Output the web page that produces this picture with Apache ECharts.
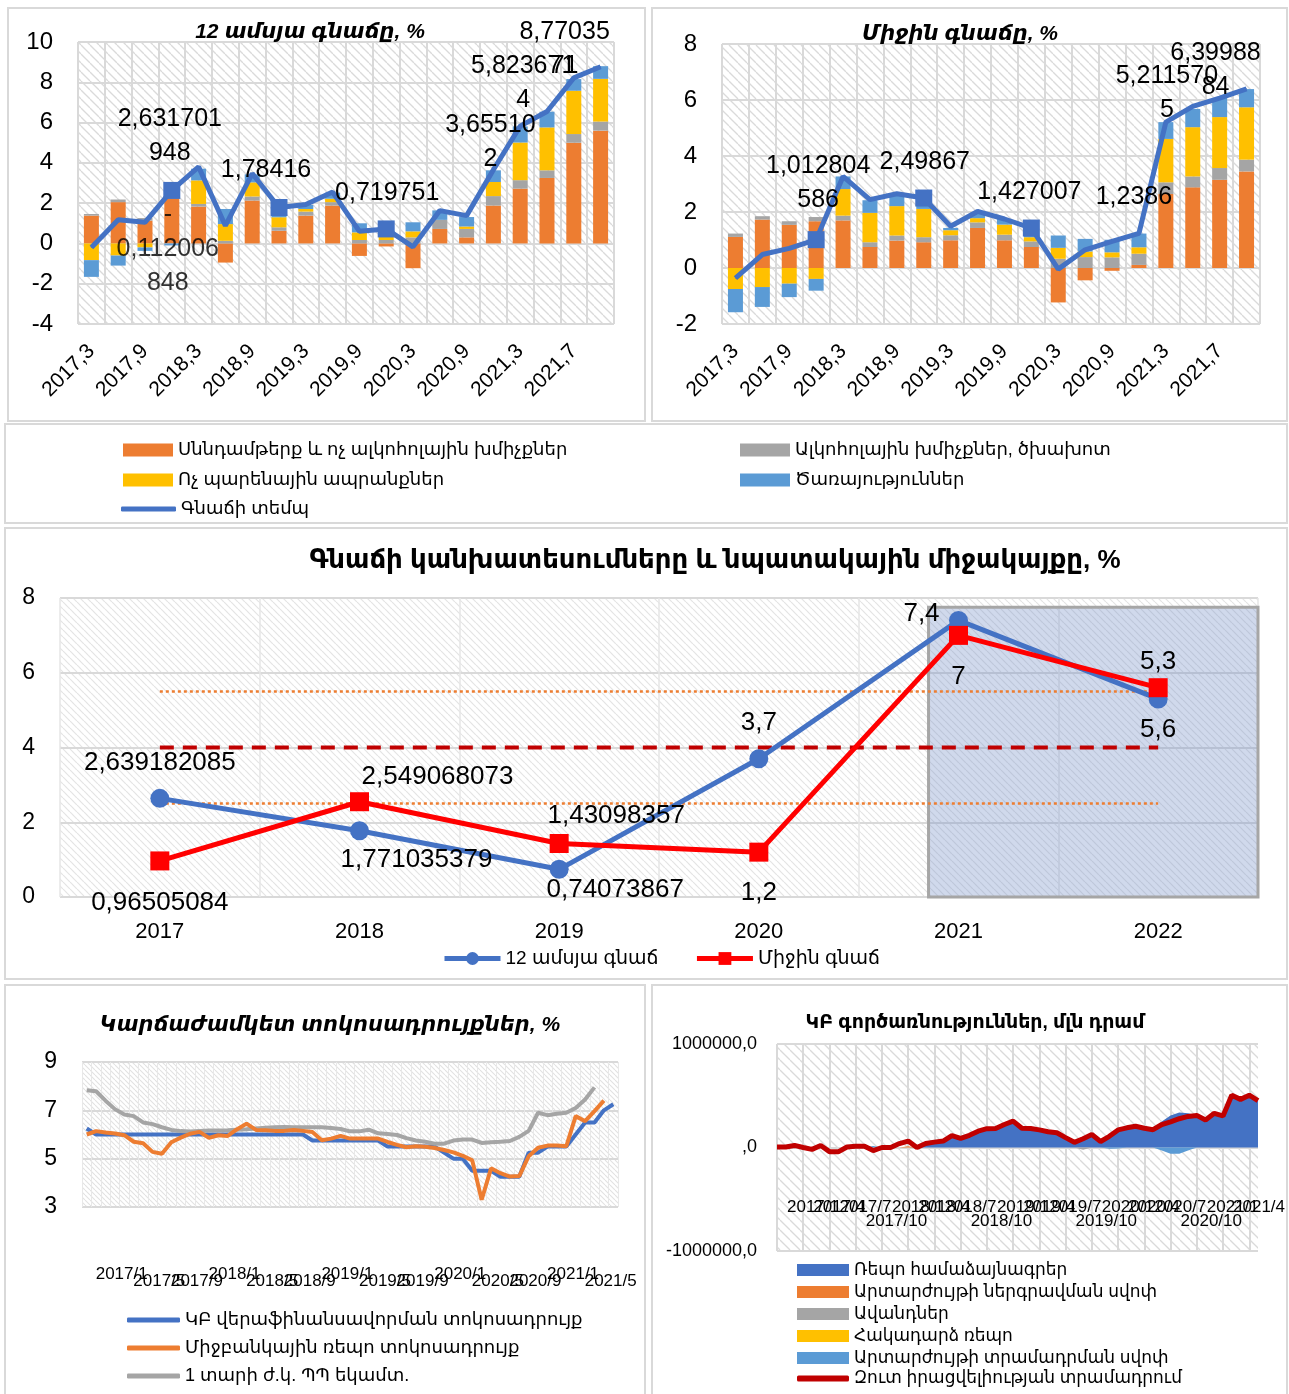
<!DOCTYPE html>
<html>
<head>
<meta charset="utf-8">
<title>Գնաճ և տոկոսադրույքներ</title>
<script src="https://cdn.jsdelivr.net/npm/echarts@6/dist/echarts.min.js"></script>
<style>
  html, body { margin: 0; padding: 0; background: #fff; }
  #main { width: 1289px; height: 1394px; }
</style>
</head>
<body>
<div id="main"></div>
<script>
  // ---------- chart 1 & 2 : CPI contributions ----------
  var quarters = ['2017,3', '2017,6', '2017,9', '2017,12', '2018,3', '2018,6', '2018,9', '2018,12', '2019,3', '2019,6',
    '2019,9', '2019,12', '2020,3', '2020,6', '2020,9', '2020,12', '2021,3', '2021,5', '2021,7', '2021,8'];

  var cpiFood    = [1.38, 2.05, 1.13, 2.25, 1.83, -0.95, 2.13, 0.63, 1.38, 1.88, -0.62, -0.15, -1.23, 0.72, 0.3, 1.88, 2.72, 3.25, 5.0, 5.6];
  var cpiAlco    = [0.08, 0.13, 0.13, 0.1, 0.13, 0.13, 0.2, 0.17, 0.2, 0.17, 0.17, 0.17, 0.3, 0.45, 0.42, 0.47, 0.42, 0.38, 0.43, 0.45];
  var cpiNonfood = [-0.83, -0.6, -0.2, 0.35, 1.17, 0.83, 0.7, 0.5, 0.13, 0.17, 0.38, 0.4, 0.3, 0.0, 0.12, 0.7, 1.87, 2.13, 2.15, 2.12];
  var cpiServ    = [-0.83, -0.5, -0.17, -0.1, 0.58, 0.75, 0.4, 0.48, 0.2, 0.3, 0.45, 0.3, 0.45, 0.47, 0.47, 0.58, 0.8, 0.78, 0.58, 0.63];
  var cpiTotal   = [-0.2, 1.17, 1.05, 2.631701948, 3.8, 0.88, 3.47, 1.78416, 1.93, 2.55, 0.6, 0.719751, -0.17, 1.63, 1.38,
    3.655102, 5.8236714, 6.55, 8.22, 8.7703571];
  var cpiNoteCat = ['2017,12'];
  var cpiNoteVal = [-0.112006848];

  var avgFood    = [1.11, 1.73, 1.54, 1.67, 1.7, 0.75, 0.98, 0.92, 0.99, 1.43, 0.99, 0.75, -1.23, -0.44, -0.1, 0.11, 2.64, 2.88, 3.15, 3.45];
  var avgAlco    = [0.12, 0.12, 0.13, 0.15, 0.17, 0.17, 0.18, 0.18, 0.18, 0.2, 0.2, 0.2, 0.33, 0.39, 0.38, 0.4, 0.42, 0.39, 0.42, 0.42];
  var avgNonfood = [-0.75, -0.68, -0.56, -0.39, 0.95, 1.05, 1.05, 1.01, 0.18, 0.15, 0.36, 0.15, 0.39, 0.2, 0.18, 0.23, 1.55, 1.76, 1.82, 1.87];
  var avgServ    = [-0.83, -0.71, -0.48, -0.42, 0.45, 0.45, 0.45, 0.39, 0.08, 0.2, 0.2, 0.32, 0.44, 0.45, 0.45, 0.49, 0.6, 0.65, 0.68, 0.65];
  var avgTotal   = [-0.36, 0.48, 0.7, 1.012804586, 3.27, 2.44, 2.65, 2.49867, 1.49, 2.02, 1.75, 1.427007, -0.04, 0.65, 0.95,
    1.2386, 5.2115705, 5.77, 6.07, 6.3998884];

  // ---------- chart 3 : forecasts ----------
  var years = ['2017', '2018', '2019', '2020', '2021', '2022'];
  var fc12m = [2.639182085, 1.771035379, 0.74073867, 3.7, 7.4, 5.3];
  var fcAvg = [0.96505084, 2.549068073, 1.43098357, 1.2, 7, 5.6];
  var target = [4, 4, 4, 4, 4, 4];
  var bandHi = [5.5, 5.5, 5.5, 5.5, 5.5, 5.5];
  var bandLo = [2.5, 2.5, 2.5, 2.5, 2.5, 2.5];
  var forecastBand = [3.85, 5.5, 0, 7.75]; // x from, x to (category index units), y from, y to

  // ---------- chart 4 : short-term rates (monthly from 2017/1) ----------
  var refiRate = [6.25, 6, 6, 6, 6, 6, 6, 6, 6, 6, 6, 6, 6, 6, 6, 6, 6, 6, 6, 6, 6, 6, 6, 6,
    5.75, 5.75, 5.75, 5.75, 5.75, 5.75, 5.75, 5.75, 5.5, 5.5, 5.5, 5.5, 5.5, 5.5,
    5.25, 5, 5, 4.5, 4.5, 4.5, 4.25, 4.25, 4.25, 5.25, 5.25, 5.5, 5.5, 5.5, 6, 6.5, 6.5, 7, 7.25];
  var repoRate = [6.0, 6.14, 6.08, 6.04, 5.97, 5.7, 5.64, 5.28, 5.2, 5.68,
    5.87, 6.03, 6.11, 5.86, 5.97, 5.94, 6.22, 6.45, 6.19, 6.18,
    6.15, 6.15, 6.19, 6.15, 6.1, 5.76, 5.83, 5.94, 5.83, 5.83,
    5.83, 5.83, 5.69, 5.57, 5.47, 5.51, 5.49, 5.44, 5.36, 5.26,
    5.12, 4.93, 3.3, 4.6, 4.4, 4.26, 4.28, 5.1, 5.45, 5.54,
    5.54, 5.51, 6.76, 6.55, 6.97, 7.4];
  var tbillYield = [7.83, 7.79, 7.4, 7.05, 6.83, 6.76, 6.5, 6.43, 6.3, 6.19,
    6.14, 6.12, 6.15, 6.17, 6.17, 6.18, 6.2, 6.22, 6.25, 6.28,
    6.3, 6.31, 6.3, 6.3, 6.3, 6.3, 6.27, 6.23, 6.13, 6.13,
    6.2, 6.05, 6.02, 5.98, 5.85, 5.75, 5.7, 5.62, 5.62, 5.75,
    5.79, 5.79, 5.65, 5.68, 5.7, 5.73, 5.9, 6.15, 6.9, 6.8,
    6.86, 6.9, 7.1, 7.45, 7.95];

  // ---------- chart 5 : CBA operations, mln dram (monthly from 2017/1) ----------
  var opsRepo = [0, 0, 0, 0, 0, 0, 0, 0, 0, 0,
    0, 0, 0, 0, 0, 0, 0, 38000, 52000, 62000,
    115000, 88000, 118000, 158000, 182000, 184000, 222000, 255000, 186000, 184000,
    170000, 152000, 142000, 95000, 50000, 107000, 125000, 58000, 120000, 180000,
    190000, 205000, 186000, 172000, 252000, 308000, 338000, 330000, 310000, 265000,
    330000, 305000, 505000, 465000, 505000, 452000];
  var opsSwapIn = [0, 0, 0, 0, 0, 0, 0, 0, 0, 0,
    0, 0, 0, 0, 0, 12000, 0, 0, 0, 0,
    0, 0, 0, 0, 0, 0, 0, 0, 0, 0,
    0, 0, 0, 0, 0, 0, 0, 0, 0, 0,
    0, 0, 0, 0, 0, 0, 0, 0, 0, 0,
    0, 0, 0, 0, 0, 0];
  var opsDeposits = [0, 0, 0, 0, 0, 0, 0, 0, 0, 0,
    0, 0, 0, 0, 0, 0, 0, 0, 0, 0,
    0, 0, 0, 0, 0, 0, 0, 0, 0, 0,
    0, 0, 0, 0, 0, -22000, 0, 0, 0, 0,
    0, 0, 0, 0, 0, 0, 0, 0, 0, 0,
    0, 0, 0, 0, 0, 0];
  var opsRevRepo = [0, 0, 0, 0, 0, 0, 0, 0, 0, 0,
    0, 0, 0, 0, 0, 0, 0, 0, 0, 0,
    0, 0, 0, 0, 0, 0, 0, 0, 0, 0,
    0, 0, 0, 0, 0, 0, 0, 0, 0, 0,
    0, 0, 0, 0, 0, 0, 0, 0, 0, 0,
    0, 0, 0, 0, 0, 0];
  var opsSwapOut = [0, 0, 0, 0, 0, 0, 0, 0, 0, 0,
    0, 15000, 0, 0, 0, 0, 0, 0, 0, 0,
    0, 0, 0, 0, 0, 0, 0, 0, 0, 0,
    0, 0, 0, 0, 0, 0, 0, 0, -12000, -10000,
    0, 0, 0, 0, -30000, -60000, -60000, -30000, 0, 0,
    0, 0, 0, 0, 0, 0];
  var opsNet = [5000, 5000, 20000, 0, -18000, 20000, -40000, -42000, 5000, 12000,
    12000, -30000, 0, 0, 38000, 62000, 0, 38000, 52000, 62000,
    115000, 88000, 118000, 158000, 182000, 184000, 222000, 255000, 186000, 184000,
    170000, 152000, 142000, 95000, 50000, 85000, 125000, 58000, 108000, 170000,
    190000, 205000, 186000, 172000, 222000, 248000, 278000, 300000, 310000, 265000,
    330000, 305000, 505000, 465000, 505000, 452000];

  function monthLabels(y, m, count) {
    var out = [];
    for (var k = 0; k < count; k++) {
      out.push(y + '/' + m);
      m++;
      if (m > 12) { m = 1; y++; }
    }
    return out;
  }
  var months4 = monthLabels(2017, 1, refiRate.length);
  var months5 = monthLabels(2017, 1, opsNet.length);

  // names
  var N_FOOD = 'Սննդամթերք և ոչ ալկոհոլային խմիչքներ';
  var N_ALCO = 'Ալկոհոլային խմիչքներ, ծխախոտ';
  var N_NONFOOD = 'Ոչ պարենային ապրանքներ';
  var N_SERV = 'Ծառայություններ';
  var N_RATE = 'Գնաճի տեմպ';

  var FONT = "'Liberation Sans', 'DejaVu Sans', sans-serif";
  var GRIDC = '#D9D9D9';

  function hatch(step, color, width) {
    var c = document.createElement('canvas');
    c.width = step; c.height = step;
    var ctx = c.getContext('2d');
    ctx.strokeStyle = color;
    ctx.lineWidth = width;
    for (var k = -1; k <= 1; k++) {
      ctx.beginPath();
      ctx.moveTo(k * step, 0);
      ctx.lineTo(k * step + step, step);
      ctx.stroke();
    }
    return { image: c, repeat: 'repeat' };
  }

  // numbers like Excel prints them in narrow label boxes
  function wrapNum(v, n) {
    var s = String(Math.abs(v)).replace('.', ',');
    var lines = [];
    for (var k = 0; k < s.length; k += n) lines.push(s.slice(k, k + n));
    return (v < 0 ? '-\n' : '') + lines.join('\n');
  }

  function rateLine(vals, squares, labels) {
    return vals.map(function (v, i) {
      var item = { value: v };
      if (squares.indexOf(i) >= 0) { item.symbol = 'rect'; item.symbolSize = 17; }
      var l = labels[i];
      if (l) {
        item.label = { show: true, position: 'inside', offset: [l.dx, l.dy],
          formatter: function () { return wrapNum(v, l.n); } };
      }
      return item;
    });
  }

  var lab1 = { 3: { n: 8, dx: -2, dy: -54 }, 7: { n: 8, dx: -13, dy: -37 }, 11: { n: 8, dx: 1, dy: -36 },
    15: { n: 7, dx: -3, dy: -28 }, 16: { n: 8, dx: 3, dy: -43 }, 19: { n: 7, dx: -36, dy: -18 } };
  var lab2 = { 3: { n: 8, dx: 2, dy: -57 }, 7: { n: 8, dx: 1, dy: -36 }, 11: { n: 8, dx: -2, dy: -36 },
    15: { n: 8, dx: -5, dy: -36 }, 16: { n: 8, dx: 1, dy: -29 }, 19: { n: 7, dx: -31, dy: -19 } };

  function pointLabels(vals, offsets) {
    return vals.map(function (v, i) {
      return { value: v, label: { show: true, position: 'inside', offset: offsets[i] } };
    });
  }
  var off12m = [[0, -36], [57, 29], [56, 21], [0, -36], [-37, -7], [0, -37]];
  var offAvg = [[0, 42], [78, -25], [57, -28], [0, 41], [0, 41], [0, 42]];

  function bar(name, data, color, ax, stack) {
    return { name: name, type: 'bar', stack: stack, xAxisIndex: ax, yAxisIndex: ax, data: data,
      barWidth: 15, itemStyle: { color: color } };
  }

  function area(name, data, color, stack) {
    return { name: name, type: 'line', stack: stack, xAxisIndex: 5, yAxisIndex: 4, data: data,
      symbol: 'none', lineStyle: { width: 0 }, areaStyle: { color: color, opacity: 1 }, itemStyle: { color: color } };
  }

  function quarterAxis(gi) {
    return {
      type: 'category', gridIndex: gi, data: quarters,
      axisLine: { show: false, onZero: false }, axisTick: { show: false },
      axisLabel: { interval: 1, rotate: 45, fontSize: 21, color: '#000', margin: 24 },
      splitLine: { show: true, interval: 0, lineStyle: { color: GRIDC, width: 2 } }
    };
  }
  function valAxis(gi, min, max, interval, fontSize, extra) {
    var a = {
      type: 'value', gridIndex: gi, min: min, max: max, interval: interval,
      axisLine: { show: false }, axisTick: { show: false },
      axisLabel: { fontSize: fontSize, color: '#000', margin: 25 },
      splitLine: { lineStyle: { color: GRIDC, width: 2 } }
    };
    for (var k in extra) a[k] = extra[k];
    return a;
  }
  // label-only month axes: one per calendar month so the (overlapping) labels are all kept
  function monthAxis(gi, data, gap, month, limit, margin, padTop, padLeft) {
    return {
      type: 'category', gridIndex: gi, data: data, boundaryGap: gap, position: 'bottom',
      axisLine: { show: false, onZero: false }, axisTick: { show: false }, splitLine: { show: false },
      axisLabel: {
        interval: function (i, v) { return i < limit && Number(v.split('/')[1]) === month; },
        align: 'left', margin: margin, showMinLabel: true, showMaxLabel: true,
        formatter: function (v) { return '{a|' + v + '}'; },
        rich: { a: { fontSize: 17, color: '#000', padding: [padTop, 0, 0, padLeft] } }
      }
    };
  }

  var panels = [[8, 8, 637, 413], [652, 8, 635, 413], [5, 424, 1282, 99], [5, 528, 1282, 451],
    [5, 985, 640, 415], [652, 985, 635, 415]].map(function (p) {
    return { type: 'rect', silent: true, z: -10, shape: { x: p[0], y: p[1], width: p[2], height: p[3] },
      style: { fill: 'none', stroke: GRIDC, lineWidth: 2 } };
  });

  var chart = echarts.init(document.getElementById('main'));

  var option = {
    animation: false,
    backgroundColor: '#fff',
    textStyle: { fontFamily: FONT, color: '#000' },
    graphic: panels,
    title: [
      { text: '12 ամսյա գնաճը, %', left: 305, top: 17, textAlign: 'center',
        textStyle: { fontSize: 21, fontWeight: 'bold', fontStyle: 'italic', color: '#000', fontFamily: FONT } },
      { text: 'Միջին գնաճը, %', left: 955, top: 19, textAlign: 'center',
        textStyle: { fontSize: 21, fontWeight: 'bold', fontStyle: 'italic', color: '#000', fontFamily: FONT } },
      { text: 'Գնաճի կանխատեսումները և նպատակային միջակայքը, %', left: 710, top: 543, textAlign: 'center',
        textStyle: { fontSize: 26, fontWeight: 'bold', color: '#000', fontFamily: FONT } },
      { text: 'Կարճաժամկետ տոկոսադրույքներ, %', left: 325, top: 1010, textAlign: 'center',
        textStyle: { fontSize: 21, fontWeight: 'bold', fontStyle: 'italic', color: '#000', fontFamily: FONT } },
      { text: 'ԿԲ գործառնություններ, մլն դրամ', left: 970, top: 1008, textAlign: 'center',
        textStyle: { fontSize: 19, fontWeight: 'bold', color: '#000', fontFamily: FONT } }
    ],
    legend: [
      { left: 118, top: 436, orient: 'vertical', icon: 'rect', itemWidth: 50, itemHeight: 13, itemGap: 12,
        data: [N_FOOD, N_NONFOOD], textStyle: { fontSize: 18, color: '#000' } },
      { left: 735, top: 436, orient: 'vertical', icon: 'rect', itemWidth: 50, itemHeight: 13, itemGap: 12,
        data: [N_ALCO, N_SERV], textStyle: { fontSize: 18, color: '#000' } },
      { left: 116, top: 495, icon: 'roundRect', itemWidth: 55, itemHeight: 5,
        data: [N_RATE], textStyle: { fontSize: 18, color: '#000' } },
      { left: 437, top: 944, itemWidth: 56, itemHeight: 16, itemGap: 36, lineStyle: { width: 5 },
        data: ['12 ամսյա գնաճ', 'Միջին գնաճ'], textStyle: { fontSize: 19, color: '#000' } },
      { left: 122, top: 1306, orient: 'vertical', icon: 'roundRect', itemWidth: 53, itemHeight: 5, itemGap: 10,
        data: ['ԿԲ վերաֆինանսավորման տոկոսադրույք', 'Միջբանկային ռեպո տոկոսադրույք', '1 տարի ժ.կ. ՊՊ եկամտ.'],
        textStyle: { fontSize: 18, color: '#000' } },
      { left: 792, top: 1256, orient: 'vertical', icon: 'rect', itemWidth: 52, itemHeight: 12, itemGap: 4,
        data: ['Ռեպո համաձայնագրեր', 'Արտարժույթի ներգրավման սվոփ', 'Ավանդներ', 'Հակադարձ ռեպո', 'Արտարժույթի տրամադրման սվոփ'],
        textStyle: { fontSize: 17, color: '#000', lineHeight: 18 } },
      { left: 792, top: 1365, icon: 'roundRect', itemWidth: 52, itemHeight: 6,
        data: ['Զուտ իրացվելիության տրամադրում'], textStyle: { fontSize: 17, color: '#000' } }
    ],
    grid: [
      { left: 78, top: 42, width: 536, height: 282, show: true, borderWidth: 0, backgroundColor: hatch(9, '#DADADA', 1.3) },
      { left: 722, top: 44, width: 538, height: 280, show: true, borderWidth: 0, backgroundColor: hatch(9, '#DADADA', 1.3) },
      { left: 60, top: 598, width: 1198, height: 299, show: true, borderWidth: 0, backgroundColor: hatch(7, '#E4E4E4', 1.2) },
      { left: 82, top: 1062, width: 536, height: 145, show: true, borderWidth: 0, backgroundColor: hatch(5, '#E2E2E2', 1.1) },
      { left: 777, top: 1044, width: 481, height: 207, show: true, borderWidth: 0, backgroundColor: hatch(10, '#DADADA', 1.3) }
    ],
    xAxis: [
      quarterAxis(0),
      quarterAxis(1),
      { type: 'category', gridIndex: 2, data: years,
        axisLine: { show: false, onZero: false }, axisTick: { show: false },
        axisLabel: { fontSize: 22, color: '#000', margin: 24 },
        splitLine: { show: true, lineStyle: { color: '#E6E6E6', width: 1.5 } } },
      { type: 'value', gridIndex: 2, min: -0.5, max: 5.5, show: false },
      { type: 'category', gridIndex: 3, data: months4, position: 'bottom',
        axisLine: { show: false, onZero: false }, axisTick: { show: false }, axisLabel: { show: false },
        splitLine: { show: true, interval: 0, lineStyle: { color: '#E8E8E8', width: 1 } } },
      { type: 'category', gridIndex: 4, data: months5, boundaryGap: false, position: 'bottom',
        axisLine: { show: false, onZero: false }, axisTick: { show: false }, axisLabel: { show: false },
        splitLine: { show: true, interval: 2, lineStyle: { color: GRIDC, width: 2 } } },
      // chart 4 tick labels
      monthAxis(3, months4, true, 1, 56, 59, 0, 9),
      monthAxis(3, months4, true, 5, 56, 59, 7, 9),
      monthAxis(3, months4, true, 9, 56, 59, 7, 9),
      // chart 5 tick labels
      monthAxis(4, months5, false, 1, 52, -52, 0, 10),
      monthAxis(4, months5, false, 4, 52, -52, 0, 10),
      monthAxis(4, months5, false, 7, 52, -52, 0, 10),
      monthAxis(4, months5, false, 10, 52, -52, 14, 10)
    ],
    yAxis: [
      valAxis(0, -4, 10, 2, 24),
      valAxis(1, -2, 8, 2, 24),
      valAxis(2, 0, 8, 2, 23),
      valAxis(3, 3, 9, 2, 23),
      valAxis(4, -1000000, 1000000, 1000000, 18, {
        axisLabel: { fontSize: 18, color: '#000', margin: 20,
          formatter: function (v) { return v === 0 ? ',0' : v + ',0'; } } })
    ],
    series: [
      // chart 1
      bar(N_FOOD, cpiFood, '#ED7D31', 0, 'c1'),
      bar(N_ALCO, cpiAlco, '#A5A5A5', 0, 'c1'),
      bar(N_NONFOOD, cpiNonfood, '#FFC000', 0, 'c1'),
      bar(N_SERV, cpiServ, '#5B9BD5', 0, 'c1'),
      { name: N_RATE, type: 'line', xAxisIndex: 0, yAxisIndex: 0, data: rateLine(cpiTotal, [3, 7, 11], lab1),
        symbol: 'circle', symbolSize: 1, showAllSymbol: true, z: 5,
        lineStyle: { width: 5, color: '#4472C4' }, itemStyle: { color: '#4472C4' },
        label: { fontSize: 25, lineHeight: 34, color: '#000' } },
      { type: 'scatter', xAxisIndex: 0, yAxisIndex: 0, z: 6, symbolSize: 1,
        data: cpiNoteCat.map(function (c, i) { return [c, cpiNoteVal[i]]; }),
        itemStyle: { color: 'rgba(0,0,0,0)' },
        label: { show: true, position: 'inside', offset: [-4, 3], fontSize: 25, lineHeight: 34, color: '#000',
          formatter: function (p) { return wrapNum(p.value[1], 8); } } },
      // chart 2
      bar(N_FOOD, avgFood, '#ED7D31', 1, 'c2'),
      bar(N_ALCO, avgAlco, '#A5A5A5', 1, 'c2'),
      bar(N_NONFOOD, avgNonfood, '#FFC000', 1, 'c2'),
      bar(N_SERV, avgServ, '#5B9BD5', 1, 'c2'),
      { name: N_RATE, type: 'line', xAxisIndex: 1, yAxisIndex: 1, data: rateLine(avgTotal, [3, 7, 11], lab2),
        symbol: 'circle', symbolSize: 1, showAllSymbol: true, z: 5,
        lineStyle: { width: 5, color: '#4472C4' }, itemStyle: { color: '#4472C4' },
        label: { fontSize: 25, lineHeight: 34, color: '#000' } },
      // chart 3
      { type: 'line', xAxisIndex: 3, yAxisIndex: 2, data: [], z: 1,
        markArea: { silent: true,
          itemStyle: { color: 'rgba(120,145,200,0.35)', borderColor: '#A6A6A6', borderWidth: 3 },
          data: [[{ coord: [forecastBand[0], forecastBand[2]] }, { coord: [forecastBand[1], forecastBand[3]] }]] } },
      { type: 'line', xAxisIndex: 2, yAxisIndex: 2, data: bandHi, symbol: 'none', z: 2,
        lineStyle: { color: '#ED7D31', width: 2.5, type: [3, 3] } },
      { type: 'line', xAxisIndex: 2, yAxisIndex: 2, data: bandLo, symbol: 'none', z: 2,
        lineStyle: { color: '#ED7D31', width: 2.5, type: [3, 3] } },
      { type: 'line', xAxisIndex: 2, yAxisIndex: 2, data: target, symbol: 'none', z: 2,
        lineStyle: { color: '#C00000', width: 4, type: [14, 9] } },
      { name: '12 ամսյա գնաճ', type: 'line', xAxisIndex: 2, yAxisIndex: 2, data: pointLabels(fc12m, off12m),
        symbol: 'circle', symbolSize: 19, z: 3,
        lineStyle: { width: 5, color: '#4472C4' }, itemStyle: { color: '#4472C4' },
        label: { fontSize: 26, color: '#000', formatter: function (p) { return String(p.value).replace('.', ','); } } },
      { name: 'Միջին գնաճ', type: 'line', xAxisIndex: 2, yAxisIndex: 2, data: pointLabels(fcAvg, offAvg),
        symbol: 'rect', symbolSize: 19, z: 4,
        lineStyle: { width: 5, color: '#FF0000' }, itemStyle: { color: '#FF0000' },
        label: { fontSize: 26, color: '#000', formatter: function (p) { return String(p.value).replace('.', ','); } } },
      // chart 4
      { name: 'ԿԲ վերաֆինանսավորման տոկոսադրույք', type: 'line', xAxisIndex: 4, yAxisIndex: 3, data: refiRate,
        symbol: 'none', z: 3, lineStyle: { width: 4, color: '#4472C4' }, itemStyle: { color: '#4472C4' } },
      { name: 'Միջբանկային ռեպո տոկոսադրույք', type: 'line', xAxisIndex: 4, yAxisIndex: 3, data: repoRate,
        symbol: 'none', z: 4, lineStyle: { width: 4, color: '#ED7D31' }, itemStyle: { color: '#ED7D31' } },
      { name: '1 տարի ժ.կ. ՊՊ եկամտ.', type: 'line', xAxisIndex: 4, yAxisIndex: 3, data: tbillYield,
        symbol: 'none', z: 3, lineStyle: { width: 4, color: '#A5A5A5' }, itemStyle: { color: '#A5A5A5' } },
      // chart 5: positive operations stack up, absorbing / negative ones in their own stack
      area('Ռեպո համաձայնագրեր', opsRepo, '#4472C4', 'opsPos'),
      area('Արտարժույթի ներգրավման սվոփ', opsSwapIn, '#ED7D31', 'opsPos'),
      area('Ավանդներ', opsDeposits, '#A5A5A5', 'opsNeg'),
      area('Հակադարձ ռեպո', opsRevRepo, '#FFC000', 'opsPos'),
      area('Արտարժույթի տրամադրման սվոփ', opsSwapOut, '#5B9BD5', 'opsNeg'),
      { name: 'Զուտ իրացվելիության տրամադրում', type: 'line', xAxisIndex: 5, yAxisIndex: 4, data: opsNet,
        symbol: 'none', z: 5, lineStyle: { width: 5, color: '#C00000' }, itemStyle: { color: '#C00000' } }
    ]
  };

  chart.setOption(option);
</script>
</body>
</html>
